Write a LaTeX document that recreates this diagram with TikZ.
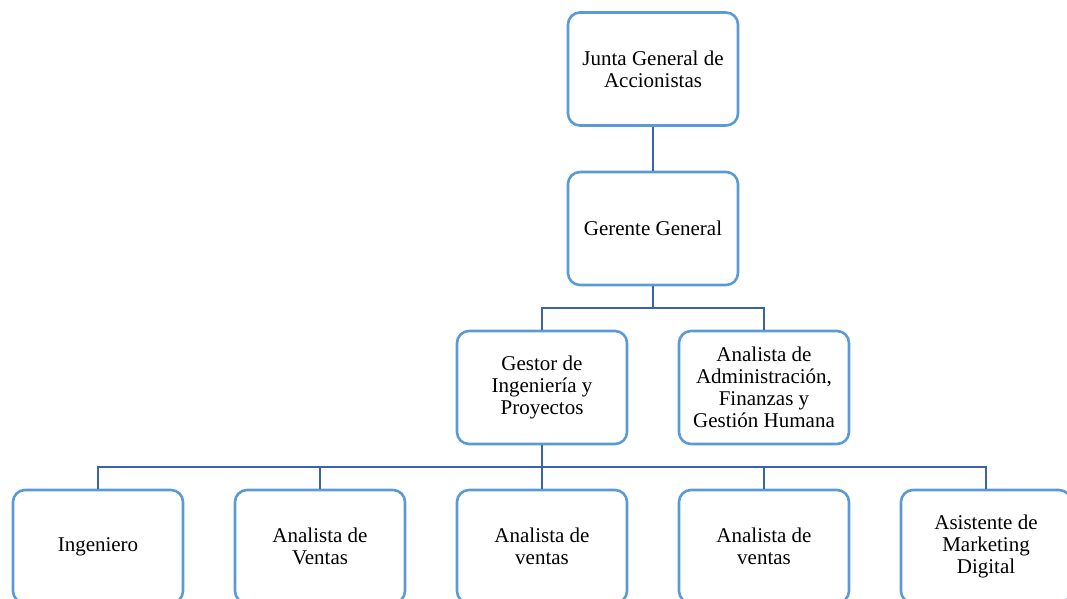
\documentclass[tikz,border=0pt]{standalone}
\usepackage{fontspec}
\setmainfont{Liberation Serif}
\definecolor{boxblue}{HTML}{5B9BD5}
\definecolor{linkblue}{HTML}{3A62AE}
\begin{document}
\begin{tikzpicture}[x=1pt,y=-1pt,
  orgbox/.style={draw=boxblue, line width=2.6pt, rounded corners=12pt,
    minimum width=170pt, minimum height=113pt, align=center, fill=white,
    font=\fontsize{21}{22}\selectfont, inner sep=2pt},
  link/.style={draw=linkblue, line width=2.2pt}]
\clip (0,0) rectangle (1067,598);
\fill[white] (0,0) rectangle (1067,598);

% boxes, placed by their centres
\node[orgbox] (junta)   at (653,69)    {Junta General de\\Accionistas};
\node[orgbox] (gerente) at (653,228.5) {Gerente General};
\node[orgbox] (gestor)  at (542,387.5) {Gestor de\\Ingeniería y\\Proyectos};
\node[orgbox] (admin)   at (764,387.5) {Analista de\\Administración,\\Finanzas y\\Gestión Humana};
\node[orgbox] (ing)     at (98,546.5)  {Ingeniero};
\node[orgbox] (ventasA) at (320,546.5) {Analista de\\Ventas};
\node[orgbox] (ventasB) at (542,546.5) {Analista de\\ventas};
\node[orgbox] (ventasC) at (764,546.5) {Analista de\\ventas};
\node[orgbox] (mkt)     at (986,546.5) {Asistente de\\Marketing\\Digital};

% connectors
\draw[link] (junta.south) -- (gerente.north);
\coordinate (b1) at (653,308);
\draw[link] (gerente.south) -- (b1);
\draw[link] (gestor.north) |- (b1) -| (admin.north);
\coordinate (b2) at (542,467);
\draw[link] (gestor.south) -- (b2);
\draw[link] (ing.north) |- (b2) -| (mkt.north);
\draw[link] (ventasA.north) -- (ventasA.north |- b2);
\draw[link] (ventasB.north) -- (b2);
\draw[link] (ventasC.north) -- (ventasC.north |- b2);
\end{tikzpicture}
\end{document}
